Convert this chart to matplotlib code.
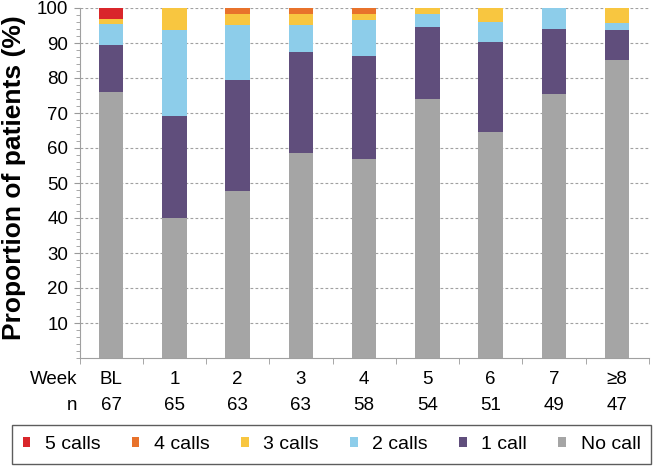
import matplotlib
matplotlib.use("Agg")
import matplotlib.pyplot as plt
import numpy as np
from matplotlib.ticker import MultipleLocator, FixedLocator

plt.rcParams['font.family'] = ['Liberation Sans', 'DejaVu Sans']

weeks = ["BL", "1", "2", "3", "4", "5", "6", "7", "≥8"]
n_values = [67, 65, 63, 63, 58, 54, 51, 49, 47]

# percentages per category (bottom to top)
no_call = [76.1, 40.0, 47.6, 58.7, 56.9, 74.1, 64.7, 75.5, 85.1]
one_call = [13.4, 29.2, 31.7, 28.6, 29.3, 20.4, 25.5, 18.4, 8.5]
two_calls = [6.0, 24.6, 15.9, 7.9, 10.3, 3.7, 5.9, 6.1, 2.1]
three_calls = [1.5, 6.2, 3.2, 3.2, 1.7, 1.9, 3.9, 0.0, 4.3]
four_calls = [0.0, 0.0, 1.6, 1.6, 1.7, 0.0, 0.0, 0.0, 0.0]
five_calls = [3.0, 0.0, 0.0, 0.0, 0.0, 0.0, 0.0, 0.0, 0.0]

series = [
    ("No call", no_call, "#a5a5a5"),
    ("1 call", one_call, "#604e7c"),
    ("2 calls", two_calls, "#8dcdea"),
    ("3 calls", three_calls, "#f8c640"),
    ("4 calls", four_calls, "#e8722b"),
    ("5 calls", five_calls, "#d9262b"),
]

fig = plt.figure(figsize=(6.54, 4.66), dpi=100)
ax = fig.add_axes([79.5 / 654, 1 - 358 / 466, 0.992 - 79.5 / 654, (358 - 8) / 466])

x = np.arange(len(weeks))
bottom = np.zeros(len(weeks))
handles = {}
for label, vals, color in series:
    vals = np.array(vals)
    b = ax.bar(x, vals, bottom=bottom, width=0.39, color=color, label=label, zorder=3)
    handles[label] = b
    bottom += vals

ax.set_xlim(-0.5, len(weeks) - 0.5)
ax.set_ylim(0, 100)
ax.set_yticks(np.arange(10, 101, 10))
ax.yaxis.set_minor_locator(MultipleLocator(2))
ax.tick_params(axis='y', which='major', length=4, color='#999999', labelsize=13.5, pad=4)
ax.tick_params(axis='y', which='minor', length=3, color='#999999')
ax.set_xticks([])
ax.xaxis.set_minor_locator(FixedLocator(np.arange(-0.5, len(weeks), 1.0)))
ax.tick_params(axis='x', which='minor', length=4, color='#999999', direction='out')
ax.tick_params(axis='x', which='major', length=0)

for y in range(10, 101, 10):
    ax.axhline(y, color='#a0a0a0', lw=0.8, ls=(0, (2.5, 2)), zorder=1)

for s in ['top', 'right']:
    ax.spines[s].set_visible(False)
for s in ['left', 'bottom']:
    ax.spines[s].set_color('#a0a0a0')
    ax.spines[s].set_linewidth(0.8)

fig.text(14 / 654, 1 - 178 / 466, "Proportion of patients (%)", rotation=90,
         ha='center', va='center', fontsize=19, fontweight='bold')

# Week and n rows
fig.text(77 / 654, 1 - 380 / 466, "Week", ha='right', va='center', fontsize=13.5)
fig.text(77 / 654, 1 - 405 / 466, "n", ha='right', va='center', fontsize=13.5)
trans = ax.get_xaxis_transform()
for i, (w, nv) in enumerate(zip(weeks, n_values)):
    ax.text(i, -22 / 350, w, transform=trans, ha='center', va='center', fontsize=13.5)
    ax.text(i, -47 / 350, str(nv), transform=trans, ha='center', va='center', fontsize=13.5)

order = ["5 calls", "4 calls", "3 calls", "2 calls", "1 call", "No call"]
leg = fig.legend([handles[k] for k in order], order, ncol=6, loc='center',
                 bbox_to_anchor=(331.5 / 654, 1 - 444.5 / 466), fontsize=14,
                 handlelength=0.4, handleheight=0.4, handletextpad=0.75,
                 columnspacing=1.6, frameon=True, fancybox=False,
                 borderpad=0.55, borderaxespad=0)
leg.get_frame().set_edgecolor('#333333')
leg.get_frame().set_linewidth(1.0)

fig.savefig("out.png", dpi=100)
